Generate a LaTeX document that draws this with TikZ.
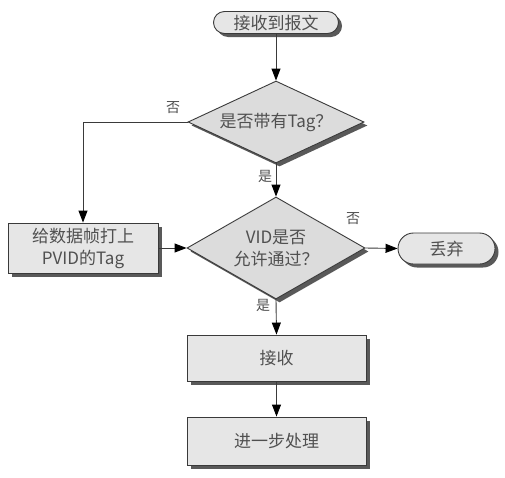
\documentclass[tikz,border=0pt]{standalone}
\usepackage{fontspec}
\setmainfont{Noto Sans CJK SC}
\usetikzlibrary{shapes.geometric,shapes.misc,shadows,arrows.meta}
\definecolor{boxfill}{HTML}{E6E6E6}
\definecolor{dfill}{HTML}{DCDCDC}
\definecolor{edge}{HTML}{3A3A3A}
\definecolor{txt}{HTML}{505050}
\begin{document}
\begin{tikzpicture}[x=1pt,y=-1pt,
  hardshadow/.style={drop shadow={shadow xshift=3.5pt,shadow yshift=-3.5pt,fill=black!65,opacity=1}},
  base/.style={draw=edge,line width=0.9pt,text=txt,font=\fontsize{17}{22}\selectfont,inner sep=0pt,align=center,hardshadow},
  term/.style={base,rounded rectangle,fill=boxfill},
  procbox/.style={base,rectangle,fill=boxfill},
  decide/.style={base,diamond,aspect=2.15,fill=dfill},
  conn/.style={draw=edge,line width=0.9pt,-{Triangle[length=12pt,width=9pt,fill=black,color=black]}},
  lbl/.style={text=txt,font=\fontsize{14}{16}\selectfont,inner sep=0pt}]
\useasboundingbox (0,0) rectangle (505,477);
\node[term,minimum width=125pt,minimum height=22pt] (start) at (276,22.5) {接收到报文};
\node[decide,minimum width=176pt,minimum height=82pt] (d1) at (276,122) {是否带有Tag？};
\node[decide,minimum width=178pt,minimum height=102pt] (d2) at (276,248) {VID是否\\允许通过？};
\node[procbox,minimum width=150pt,minimum height=50pt] (tagbox) at (83,248) {给数据帧打上\\PVID的Tag};
\node[term,minimum width=97pt,minimum height=31pt] (drop) at (446.5,248.5) {丢弃};
\node[procbox,minimum width=179pt,minimum height=46pt] (recv) at (276.5,358) {接收};
\node[procbox,minimum width=179pt,minimum height=48pt] (proc) at (276.5,441) {进一步处理};
\draw[conn] (start.south) -- (d1.north);
\draw[conn] (d1.west) -| (tagbox.north);
\draw[conn] (d1.south) -- (d2.north);
\draw[conn] (tagbox.east) -- (d2.west);
\draw[conn] (d2.east) -- (drop.west);
\draw[conn] (d2.south) -- (recv.north);
\draw[conn] (recv.south) -- (proc.north);
\node[lbl] (no1) at (173,108) {否};
\node[lbl] (yes1) at (265,176) {是};
\node[lbl] (no2) at (353,219) {否};
\node[lbl] (yes2) at (263,305) {是};
\end{tikzpicture}
\end{document}
